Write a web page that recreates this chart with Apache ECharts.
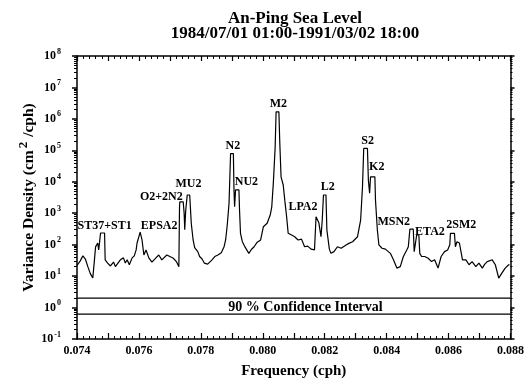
<!DOCTYPE html>
<html>
<head>
<meta charset="utf-8">
<script src="https://cdn.jsdelivr.net/npm/echarts@6/dist/echarts.min.js"></script>
<style>
html, body { margin: 0; padding: 0; background: #fff; }
#chart { width: 527px; height: 389px; }
</style>
</head>
<body>
<div id="chart"></div>
<script>
// Spectrum of the An-Ping sea level record around the semidiurnal band
const frequency = [
  0.07400, 0.07410, 0.07419, 0.07427, 0.07435, 0.07443, 0.07451, 0.07456, 0.07460, 0.07467,
  0.07470, 0.07473, 0.07476, 0.07489, 0.07491, 0.07499, 0.07508, 0.07518, 0.07524, 0.07530,
  0.07540, 0.07550, 0.07556, 0.07562, 0.07569, 0.07578, 0.07585, 0.07591, 0.07594, 0.07600,
  0.07604, 0.07610, 0.07616, 0.07623, 0.07632, 0.07642, 0.07655, 0.07664, 0.07674, 0.07690,
  0.07700, 0.07711, 0.07721, 0.07729, 0.07731, 0.07732, 0.07743, 0.07746, 0.07748, 0.07751,
  0.07756, 0.07764, 0.07769, 0.07775, 0.07780, 0.07785, 0.07790, 0.07796, 0.07804, 0.07811,
  0.07816, 0.07822, 0.07827, 0.07836, 0.07845, 0.07855, 0.07866, 0.07875, 0.07880, 0.07885,
  0.07891, 0.07896, 0.07905, 0.07907, 0.07909, 0.07912, 0.07923, 0.07925, 0.07928, 0.07934,
  0.07941, 0.07947, 0.07955, 0.07963, 0.07972, 0.07982, 0.07993, 0.08002, 0.08014, 0.08024,
  0.08029, 0.08034, 0.08040, 0.08043, 0.08052, 0.08055, 0.08059, 0.08066, 0.08071, 0.08077,
  0.08082, 0.08093, 0.08103, 0.08114, 0.08125, 0.08135, 0.08145, 0.08156, 0.08167, 0.08171,
  0.08172, 0.08177, 0.08181, 0.08188, 0.08192, 0.08196, 0.08204, 0.08207, 0.08215, 0.08220,
  0.08230, 0.08241, 0.08253, 0.08269, 0.08278, 0.08290, 0.08306, 0.08316, 0.08322, 0.08326,
  0.08338, 0.08341, 0.08345, 0.08348, 0.08362, 0.08364, 0.08370, 0.08375, 0.08385, 0.08396,
  0.08412, 0.08422, 0.08433, 0.08444, 0.08454, 0.08465, 0.08470, 0.08475, 0.08486, 0.08489,
  0.08492, 0.08497, 0.08504, 0.08507, 0.08513, 0.08523, 0.08534, 0.08545, 0.08555, 0.08566,
  0.08576, 0.08587, 0.08597, 0.08604, 0.08606, 0.08619, 0.08622, 0.08627, 0.08635, 0.08645,
  0.08656, 0.08666, 0.08676, 0.08688, 0.08698, 0.08709, 0.08717, 0.08725, 0.08741, 0.08751,
  0.08762, 0.08772, 0.08783, 0.08794, 0.08797
];

const density = [
  22, 30, 44, 35, 20, 12, 8.8, 30, 85, 113,
  68, 120, 235, 235, 33, 26, 21, 28, 20, 23,
  33, 38, 26, 33, 23, 38, 44, 68, 113, 98,
  252, 141, 47, 68, 38, 28, 38, 47, 33, 47,
  42, 37, 29, 20, 1500, 2300, 2300, 1000, 300, 1200,
  3800, 3800, 480, 141, 80, 90, 60, 42, 35, 26,
  28, 24, 23, 33, 42, 47, 55, 86, 141, 400,
  2060, 79000, 79000, 5500, 1600, 5500, 5500, 1200, 230, 124,
  90, 100, 53, 70, 86, 120, 141, 373, 478, 877,
  1600, 8900, 129000, 1670000, 1670000, 165000, 14400, 7900, 2600, 774,
  230, 203, 179, 141, 150, 86, 90, 72, 68, 68,
  774, 774, 500, 179, 600, 3800, 3800, 293, 72, 53,
  60, 86, 77, 98, 110, 124, 179, 608, 6900, 115000,
  115000, 11300, 4300, 14400, 14400, 2600, 293, 98, 77, 72,
  53, 33, 18, 20, 42, 68, 86, 310, 310, 60,
  60, 203, 203, 53, 42, 42, 37, 29, 33, 18,
  42, 60, 68, 100, 230, 230, 86, 124, 113, 33,
  33, 23, 29, 20, 26, 18, 24, 29, 33, 23,
  8.6, 12.4, 18, 23, 23
];

// Tidal constituents marked on the spectrum
const peakNames = ['ST37+ST1', 'EPSA2', 'O2+2N2', 'MU2', 'N2', 'NU2', 'M2', 'LPA2', 'L2', 'S2', 'K2', 'MSN2', 'ETA2', '2SM2'];
const peakFreqs = [0.07483, 0.07604, 0.07737, 0.07760, 0.07900, 0.07918, 0.08047, 0.08175, 0.08200, 0.08332, 0.08355, 0.08481, 0.08501, 0.08612];

// 90 % confidence interval bounds
const confidenceBounds = [2.0, 0.62];
const confidenceText = '90 % Confidence Interval';

const titleLines = ['An-Ping Sea Level', '1984/07/01 01:00-1991/03/02 18:00'];
const xAxisTitle = 'Frequency (cph)';

const SERIF = '"Liberation Serif", "DejaVu Serif", serif';
const X_MIN = 0.074, X_MAX = 0.088;

// label placement relative to each peak top
const peakLabelOffset = {
  'ST37+ST1': [2, 1], 'EPSA2': [19, 2], 'O2+2N2': [-20, 3], 'MU2': [0, -3],
  'N2': [1, 0], 'NU2': [9, 0], 'M2': [1, 0], 'LPA2': [-14, -2], 'L2': [3, 0],
  'S2': [2, 0], 'K2': [4, -2], 'MSN2': [-18, 1], 'ETA2': [12, 5], '2SM2': [9, 0]
};

function peakValue(f) {
  let best = 0;
  frequency.forEach(function (x, i) {
    if (Math.abs(x - f) <= 0.00008 && density[i] > best) best = density[i];
  });
  return best;
}

const peakMarks = peakNames.map(function (name, i) {
  return {
    name: name,
    coord: [peakFreqs[i], peakValue(peakFreqs[i])],
    label: { offset: peakLabelOffset[name] }
  };
});

const chart = echarts.init(document.getElementById('chart'), null, { renderer: 'canvas' });

const axisLine = { show: true, lineStyle: { color: '#000', width: 1.5 } };

chart.setOption({
  backgroundColor: '#fff',
  animation: false,
  graphic: [{
    type: 'text',
    x: 295,
    y: 26,
    style: {
      text: titleLines.join('\n'),
      align: 'center',
      verticalAlign: 'middle',
      fontSize: 17,
      fontWeight: 'bold',
      fontFamily: SERIF,
      lineHeight: 15,
      fill: '#000'
    }
  }],
  grid: { left: 77, right: 11, top: 56, bottom: 50, containLabel: false },
  xAxis: [{
    type: 'value',
    min: X_MIN,
    max: X_MAX,
    interval: 0.001,
    position: 'bottom',
    axisLine: axisLine,
    axisTick: { show: true, inside: true, length: 6, lineStyle: { color: '#000', width: 1.2 } },
    minorTick: { show: true, splitNumber: 5, length: 3, lineStyle: { color: '#000', width: 1 } },
    splitLine: { show: false },
    axisLabel: {
      margin: 6,
      color: '#000',
      fontSize: 12,
      fontWeight: 'bold',
      fontFamily: SERIF,
      formatter: function (v) {
        const k = Math.round(v * 1000);
        return k % 2 === 0 ? (k / 1000).toFixed(3) : '';
      }
    },
    name: xAxisTitle,
    nameLocation: 'middle',
    nameGap: 25,
    nameMoveOverlap: false,
    nameTextStyle: { color: '#000', fontSize: 15, fontWeight: 'bold', fontFamily: SERIF }
  }, {
    type: 'value',
    min: X_MIN,
    max: X_MAX,
    interval: 0.001,
    position: 'top',
    axisLine: axisLine,
    axisTick: { show: true, inside: true, length: 5, lineStyle: { color: '#000', width: 1.2 } },
    minorTick: { show: true, splitNumber: 5, length: 3, lineStyle: { color: '#000', width: 1 } },
    splitLine: { show: false },
    axisLabel: { show: false }
  }],
  yAxis: [{
    type: 'log',
    logBase: 10,
    min: 0.1,
    max: 1e8,
    splitNumber: 9,
    position: 'left',
    axisLine: axisLine,
    axisTick: { show: true, inside: false, length: 5, lineStyle: { color: '#000', width: 1.5 } },
    minorTick: { show: true, splitNumber: 9, length: 3, lineStyle: { color: '#000', width: 1 } },
    splitLine: { show: false },
    axisLabel: {
      margin: 16,
      color: '#000',
      formatter: function (v) {
        const e = Math.round(Math.log10(v));
        return '{b|10}{s|' + e + '}';
      },
      rich: {
        b: { fontSize: 12, fontWeight: 'bold', fontFamily: SERIF, color: '#000' },
        s: { fontSize: 8, fontWeight: 'bold', fontFamily: SERIF, color: '#000', padding: [0, 0, 9, 1] }
      }
    },
    name: '{t|Variance Density (cm}{s|2}{t| /cph)}',
    nameLocation: 'middle',
    nameGap: 37,
    nameRotate: 90,
    nameMoveOverlap: false,
    nameTextStyle: {
      rich: {
        t: { fontSize: 15.5, fontWeight: 'bold', fontFamily: SERIF, color: '#000' },
        s: { fontSize: 13, fontWeight: 'bold', fontFamily: SERIF, color: '#000', padding: [0, 1, 10, 2] }
      }
    }
  }, {
    type: 'log',
    logBase: 10,
    min: 0.1,
    max: 1e8,
    splitNumber: 9,
    position: 'right',
    axisLine: axisLine,
    axisTick: { show: true, inside: false, length: 4, lineStyle: { color: '#000', width: 1.5 } },
    minorTick: { show: true, splitNumber: 9, length: 2, lineStyle: { color: '#000', width: 1 } },
    splitLine: { show: false },
    axisLabel: { show: false }
  }],
  series: [{
    name: 'spectrum',
    type: 'line',
    xAxisIndex: 0,
    yAxisIndex: 0,
    data: frequency.map(function (f, i) { return [f, density[i]]; }),
    showSymbol: false,
    symbol: 'none',
    lineStyle: { color: '#000', width: 1.2 },
    z: 3,
    markPoint: {
      symbol: 'circle',
      symbolSize: 0,
      itemStyle: { color: 'transparent' },
      label: {
        show: true,
        position: 'top',
        distance: 2,
        color: '#000',
        fontSize: 12,
        fontWeight: 'bold',
        fontFamily: SERIF,
        formatter: '{b}'
      },
      data: peakMarks
    }
  }, {
    name: 'upper bound',
    type: 'line',
    data: [[X_MIN, confidenceBounds[0]], [X_MAX, confidenceBounds[0]]],
    showSymbol: false,
    symbol: 'none',
    lineStyle: { color: '#000', width: 1.4 }
  }, {
    name: 'lower bound',
    type: 'line',
    data: [[X_MIN, confidenceBounds[1]], [X_MAX, confidenceBounds[1]]],
    showSymbol: false,
    symbol: 'none',
    lineStyle: { color: '#000', width: 1.4 },
    markPoint: {
      symbol: 'circle',
      symbolSize: 0,
      itemStyle: { color: 'transparent' },
      label: {
        show: true,
        position: 'top',
        distance: 0,
        color: '#000',
        fontSize: 14,
        fontWeight: 'bold',
        fontFamily: SERIF,
        formatter: confidenceText
      },
      data: [{ coord: [0.08138, confidenceBounds[1]] }]
    }
  }]
});
</script>
</body>
</html>
